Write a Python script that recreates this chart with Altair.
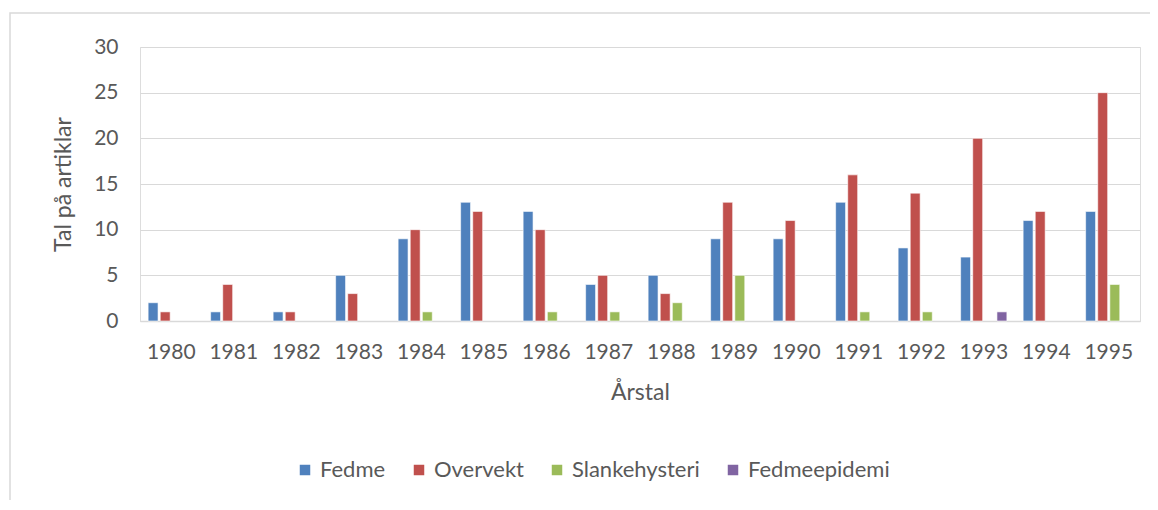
import altair as alt
import pandas as pd

years = [str(y) for y in range(1980, 1996)]
series = ["Fedme", "Overvekt", "Slankehysteri", "Fedmeepidemi"]
fedme = [2, 1, 1, 5, 9, 13, 12, 4, 5, 9, 9, 13, 8, 7, 11, 12]
overvekt = [1, 4, 1, 3, 10, 12, 10, 5, 3, 13, 11, 16, 14, 20, 12, 25]
slank = [0, 0, 0, 0, 1, 0, 1, 1, 2, 5, 0, 1, 1, 0, 0, 4]
fedmeep = [0, 0, 0, 0, 0, 0, 0, 0, 0, 0, 0, 0, 0, 1, 0, 0]
colors = ["#4F81BD", "#C0504D", "#9BBB59", "#8064A2"]

rows = []
for s, vals in zip(series, [fedme, overvekt, slank, fedmeep]):
    for y, v in zip(years, vals):
        rows.append({"Årstal": y, "Serie": s, "Tal": v})
df = pd.DataFrame(rows)

FONT = "Lato"
GRAY = "#595959"

bars = alt.Chart(df).transform_filter("datum.Tal > 0").mark_bar(
    stroke="white", strokeWidth=0.6).encode(
    x=alt.X("Årstal:N", sort=years,
            scale=alt.Scale(paddingInner=0.26, paddingOuter=0.13),
            axis=alt.Axis(title="Årstal", labelAngle=0, labelFontSize=21,
                          labelColor=GRAY, labelPadding=20, ticks=False,
                          domainColor="#D9D9D9", domainWidth=1.5,
                          titleFontSize=23, titleColor=GRAY, titleFontWeight="normal",
                          titlePadding=19, labelFont=FONT, titleFont=FONT)),
    xOffset=alt.XOffset("Serie:N", sort=series, scale=alt.Scale(domain=series, paddingInner=0.18)),
    y=alt.Y("Tal:Q", scale=alt.Scale(domain=[0, 30]),
            axis=alt.Axis(title="Tal på artiklar", values=[0, 5, 10, 15, 20, 25, 30],
                          labelFontSize=21, labelColor=GRAY, labelPadding=22,
                          ticks=False, domain=False, gridColor="#D9D9D9",
                          titleFontSize=23, titleColor=GRAY, titleFontWeight="normal",
                          titlePadding=18, labelFont=FONT, titleFont=FONT)),
    color=alt.Color("Serie:N", sort=series,
                    scale=alt.Scale(domain=series, range=colors),
                    legend=alt.Legend(title=None, orient="none", direction="horizontal",
                                      legendX=154, legendY=412,
                                      symbolType="square", symbolSize=110,
                                      symbolStrokeWidth=0, labelFontSize=22,
                                      labelColor=GRAY, labelFont=FONT,
                                      columnPadding=22, symbolOffset=0, labelOffset=4)),
)

frame = alt.Chart(pd.DataFrame({"f": [0]})).mark_rect(
    fill=None, stroke="#D9D9D9", strokeWidth=1.5).encode(
    x=alt.value(-130), x2=alt.value(1040), y=alt.value(-34), y2=alt.value(500))

chart = alt.layer(frame, bars).properties(
    width=1000, height=274,
    padding={"left": 132, "top": 39, "right": 10, "bottom": 179},
    autosize=alt.AutoSizeParams(type="none"),
).configure_view(stroke=None).configure(background="white")

chart.save("out.html", embed_options={"renderer": "svg", "actions": False})
